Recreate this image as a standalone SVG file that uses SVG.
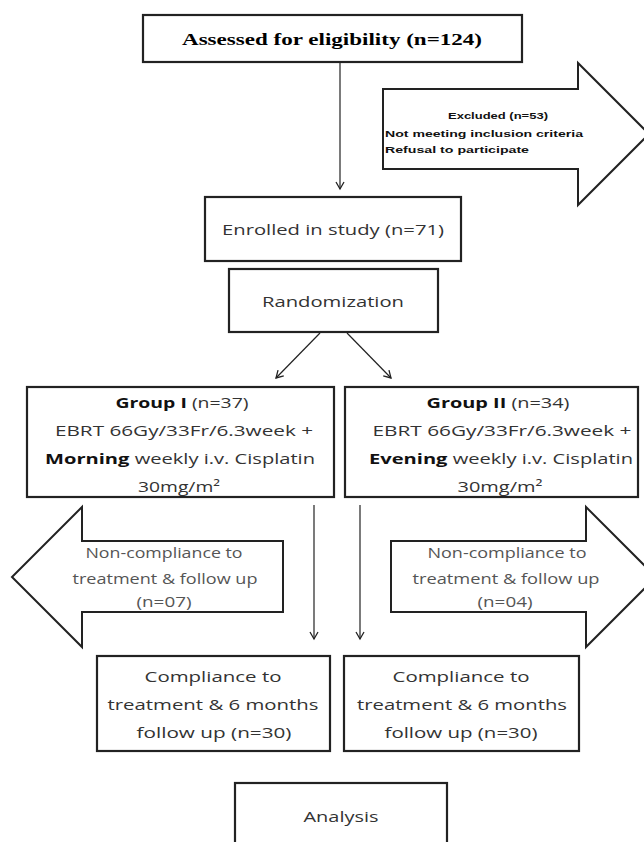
<svg xmlns="http://www.w3.org/2000/svg" width="644" height="842" viewBox="0 0 644 842">
<defs>
<marker id="ah" markerWidth="10" markerHeight="10" refX="8" refY="5" orient="auto" markerUnits="userSpaceOnUse">
<path d="M1,1 L8,5 L1,9" fill="none" stroke="#222" stroke-width="1.3"/>
</marker>
<style>
.box{fill:#fff;stroke:#222;stroke-width:2.2}
.big{fill:#fff;stroke:#222;stroke-width:2}
.t{font-family:"Open Sans","Liberation Sans",sans-serif;font-size:15px;fill:#333;text-anchor:middle}
.b{font-weight:bold;fill:#111}
.g{fill:#555}
.ex{font-family:"Liberation Sans",Arial,sans-serif;font-size:8.5px;font-weight:bold;fill:#111}
.ser{font-family:"Liberation Serif","Times New Roman",serif;font-size:16px;font-weight:bold;fill:#000;text-anchor:middle}
.c{stroke:#222;stroke-width:1.2;fill:none;marker-end:url(#ah)}
</style>
</defs>
<rect width="644" height="842" fill="#fff"/>

<g id="assessed">
<rect class="box" x="143" y="15" width="379" height="47"/>
<text class="ser" x="332" y="45" textLength="300" lengthAdjust="spacingAndGlyphs">Assessed for eligibility (n=124)</text>
</g>

<g id="excluded">
<path class="big" d="M383,89 L578,89 L578,63 L649,134 L578,205 L578,169 L383,169 Z"/>
<text class="ex" x="498" y="119" text-anchor="middle" textLength="100" lengthAdjust="spacingAndGlyphs">Excluded (n=53)</text>
<text class="ex" x="385" y="137" textLength="198" lengthAdjust="spacingAndGlyphs">Not meeting inclusion criteria</text>
<text class="ex" x="385" y="153" textLength="144" lengthAdjust="spacingAndGlyphs">Refusal to participate</text>
</g>

<g id="enrolled">
<rect class="box" x="205" y="197" width="256" height="64"/>
<text class="t" x="333" y="235" textLength="222" lengthAdjust="spacingAndGlyphs">Enrolled in study (n=71)</text>
</g>

<g id="randomization">
<rect class="box" x="229" y="269" width="209" height="63"/>
<text class="t" x="333" y="307" textLength="142" lengthAdjust="spacingAndGlyphs">Randomization</text>
</g>

<g id="group1">
<rect class="box" x="27" y="387" width="307" height="110"/>
<text class="t" x="182" y="408" textLength="133" lengthAdjust="spacingAndGlyphs"><tspan class="b">Group I</tspan> (n=37)</text>
<text class="t" x="184" y="436" textLength="258" lengthAdjust="spacingAndGlyphs">EBRT 66Gy/33Fr/6.3week +</text>
<text class="t" x="180" y="464" textLength="270" lengthAdjust="spacingAndGlyphs"><tspan class="b">Morning</tspan> weekly i.v. Cisplatin</text>
<text class="t" x="179" y="492" textLength="82" lengthAdjust="spacingAndGlyphs">30mg/m²</text>
</g>

<g id="group2">
<rect class="box" x="345" y="387" width="293" height="110"/>
<text class="t" x="498" y="408" textLength="143" lengthAdjust="spacingAndGlyphs"><tspan class="b">Group II</tspan> (n=34)</text>
<text class="t" x="502" y="436" textLength="259" lengthAdjust="spacingAndGlyphs">EBRT 66Gy/33Fr/6.3week +</text>
<text class="t" x="501" y="464" textLength="264" lengthAdjust="spacingAndGlyphs"><tspan class="b">Evening</tspan> weekly i.v. Cisplatin</text>
<text class="t" x="500" y="492" textLength="85" lengthAdjust="spacingAndGlyphs">30mg/m²</text>
</g>

<g id="noncomp1">
<path class="big" d="M283,541 L82,541 L82,507 L12,577 L82,647 L82,612 L283,612 Z"/>
<text class="t g" x="164" y="558" textLength="157" lengthAdjust="spacingAndGlyphs">Non-compliance to</text>
<text class="t g" x="165" y="584" textLength="185" lengthAdjust="spacingAndGlyphs">treatment &amp; follow up</text>
<text class="t g" x="164" y="607" textLength="55" lengthAdjust="spacingAndGlyphs">(n=07)</text>
</g>

<g id="noncomp2">
<path class="big" d="M391,541 L586,541 L586,507 L656,577 L586,647 L586,612 L391,612 Z"/>
<text class="t g" x="507" y="558" textLength="159" lengthAdjust="spacingAndGlyphs">Non-compliance to</text>
<text class="t g" x="506" y="584" textLength="187" lengthAdjust="spacingAndGlyphs">treatment &amp; follow up</text>
<text class="t g" x="505" y="607" textLength="55" lengthAdjust="spacingAndGlyphs">(n=04)</text>
</g>

<g id="comp1">
<rect class="box" x="97" y="656" width="233" height="95"/>
<text class="t" x="213" y="682" textLength="137" lengthAdjust="spacingAndGlyphs">Compliance to</text>
<text class="t" x="213" y="710" textLength="211" lengthAdjust="spacingAndGlyphs">treatment &amp; 6 months</text>
<text class="t" x="214" y="738" textLength="155" lengthAdjust="spacingAndGlyphs">follow up (n=30)</text>
</g>

<g id="comp2">
<rect class="box" x="344" y="656" width="235" height="95"/>
<text class="t" x="461" y="682" textLength="137" lengthAdjust="spacingAndGlyphs">Compliance to</text>
<text class="t" x="462" y="710" textLength="210" lengthAdjust="spacingAndGlyphs">treatment &amp; 6 months</text>
<text class="t" x="461" y="738" textLength="153" lengthAdjust="spacingAndGlyphs">follow up (n=30)</text>
</g>

<g id="analysis">
<rect class="box" x="235" y="783" width="212" height="80"/>
<text class="t" x="341" y="822" textLength="75" lengthAdjust="spacingAndGlyphs">Analysis</text>
</g>

<g id="connectors">
<line class="c" x1="340" y1="63" x2="340" y2="189"/>
<line class="c" x1="320" y1="333" x2="276" y2="378"/>
<line class="c" x1="347" y1="333" x2="391" y2="378"/>
<line class="c" x1="314" y1="505" x2="314" y2="639"/>
<line class="c" x1="360" y1="505" x2="360" y2="639"/>
</g>
</svg>
